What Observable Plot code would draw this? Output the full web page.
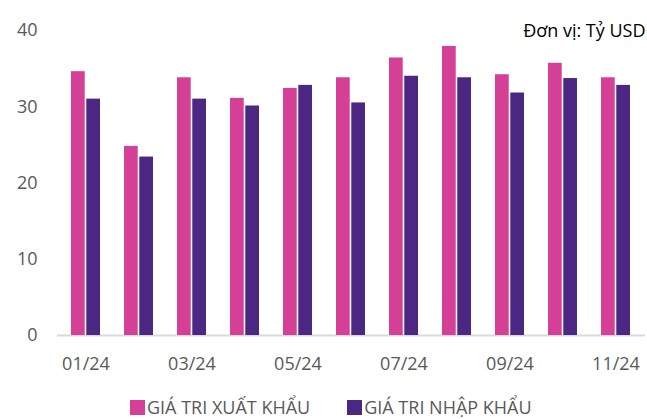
<!DOCTYPE html>
<html>
<head>
<meta charset="utf-8">
<script src="https://cdn.jsdelivr.net/npm/d3@7"></script>
<script src="https://cdn.jsdelivr.net/npm/@observablehq/plot@0.6"></script>
<style>
  body { margin: 0; background: #fff; font-family: "Open Sans", sans-serif; }
  #chart { position: relative; width: 647px; }
  .legend { display: flex; align-items: center; margin-left: 130px; margin-top: 1px; font-size: 18px; color: #595959; line-height: 20px; }
  .legend .item { display: flex; align-items: center; margin-right: 37px; }
  .legend .sw { width: 15px; height: 15px; margin-right: 2px; }
</style>
</head>
<body>
<div id="chart"></div>
<script>
const months = ["01/24","02/24","03/24","04/24","05/24","06/24","07/24","08/24","09/24","10/24","11/24"];
const exportValues = [34.6, 24.8, 33.8, 31.1, 32.4, 33.8, 36.4, 37.9, 34.2, 35.7, 33.8];
const importValues = [31.0, 23.4, 31.0, 30.1, 32.8, 30.5, 34.0, 33.8, 31.8, 33.7, 32.8];
const seriesNames = ["GIÁ TRI XUẤT KHẨU", "GIÁ TRI NHẬP KHẨU"];
const colors = ["#D63F96", "#4B2682"];
const yTicks = [0, 10, 20, 30, 40];
const unitLabel = "Đơn vị: Tỷ USD";

const data = months.map((m, i) => ({month: m, exp: exportValues[i], imp: importValues[i]}));

const W = 647, H = 396, ML = 57, MR = 2, MT = 30, MB = 61;
const pInner = 0.447, pOuter = 0.2235;
const step = (W - ML - MR) / (months.length - pInner + 2 * pOuter);
const bw = step * (1 - pInner);
const half = bw / 2 + 0.5;

const chart = Plot.plot({
  width: W, height: H,
  marginLeft: ML, marginRight: MR, marginTop: MT, marginBottom: MB,
  style: {fontFamily: "Open Sans, sans-serif", fontSize: "18px", color: "#595959", background: "#fff", overflow: "visible"},
  x: {domain: months, paddingInner: pInner, paddingOuter: pOuter, label: null, tickSize: 0, tickPadding: 22,
      tickFormat: (d, i) => (months.indexOf(d) % 2 === 0 ? d : "")},
  y: {domain: [0, 40], ticks: yTicks, label: null, tickSize: 0, tickPadding: 20},
  marks: [
    Plot.ruleY([0], {stroke: "#d9d9d9", strokeWidth: 2}),
    Plot.barY(data, {x: "month", y: "exp", fill: colors[0], insetRight: half}),
    Plot.barY(data, {x: "month", y: "imp", fill: colors[1], insetLeft: half}),
    Plot.text([unitLabel], {frameAnchor: "top-right", text: d => d, dy: -6, dx: 0, fill: "#000", fontSize: 18, textAnchor: "end"})
  ]
});
document.getElementById("chart").appendChild(chart);

const legend = document.createElement("div");
legend.className = "legend";
seriesNames.forEach((name, i) => {
  const item = document.createElement("div");
  item.className = "item";
  const sw = document.createElement("span");
  sw.className = "sw";
  sw.style.background = colors[i];
  const label = document.createElement("span");
  label.textContent = name;
  item.appendChild(sw);
  item.appendChild(label);
  legend.appendChild(item);
});
document.getElementById("chart").appendChild(legend);
</script>
</body>
</html>
